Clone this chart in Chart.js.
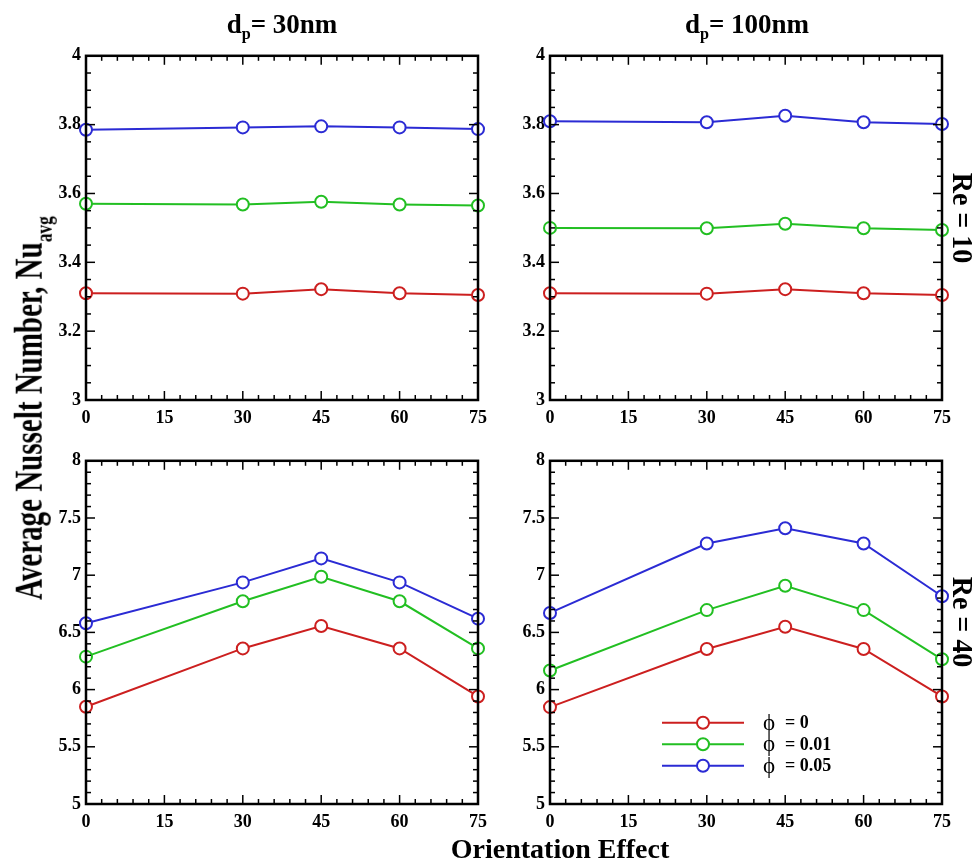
<!DOCTYPE html>
<html>
<head>
<meta charset="utf-8">
<script src="https://cdn.jsdelivr.net/npm/chart.js@4.4.0/dist/chart.umd.min.js"></script>
<style>
  body { margin: 0; background: #fff; }
  #page { position: relative; width: 977px; height: 861px; overflow: hidden; font-family: "Liberation Serif", "Times New Roman", serif; }
  .box { position: absolute; }
  .txt { position: absolute; font-weight: bold; color: #000; white-space: nowrap; line-height: 1; }
  .txt sub { font-size: 0.6em; vertical-align: baseline; position: relative; top: 0.4em; }
</style>
</head>
<body>
<div id="page">
  <div class="box" style="left:30px;top:40px;width:465px;height:390px"><canvas id="c1"></canvas></div>
  <div class="box" style="left:494px;top:40px;width:465px;height:390px"><canvas id="c2"></canvas></div>
  <div class="box" style="left:30px;top:445px;width:465px;height:389px"><canvas id="c3"></canvas></div>
  <div class="box" style="left:494px;top:445px;width:465px;height:389px"><canvas id="c4"></canvas></div>

  <div class="txt" style="left:282px;top:11px;font-size:27px;transform:translateX(-50%)">d<sub>p</sub>= 30nm</div>
  <div class="txt" style="left:747px;top:11px;font-size:27px;transform:translateX(-50%)">d<sub>p</sub>= 100nm</div>
  <div class="txt" style="left:560px;top:835px;font-size:28px;transform:translateX(-50%)">Orientation Effect</div>
  <div class="txt" style="left:29px;top:408px;font-size:29px;transform:translate(-50%,-50%) rotate(-90deg) scaleY(1.35)">Average Nusselt Number, Nu<sub>avg</sub></div>
  <div class="txt" style="left:963px;top:218px;font-size:28px;transform:translate(-50%,-50%) rotate(90deg) scaleY(1.08)">Re = 10</div>
  <div class="txt" style="left:963px;top:622px;font-size:28px;transform:translate(-50%,-50%) rotate(90deg) scaleY(1.08)">Re = 40</div>
</div>

<script>
// orientation angles (x axis)
const angles = [0, 30, 45, 60, 75];
const seriesLabels = ['ϕ = 0', 'ϕ = 0.01', 'ϕ = 0.05'];
const seriesColors = ['#cc1f1f', '#22bf22', '#2b2bd4'];

// Re = 10
const re10_30nm_phi0   = [3.310, 3.309, 3.322, 3.310, 3.305];
const re10_30nm_phi001 = [3.570, 3.568, 3.576, 3.568, 3.565];
const re10_30nm_phi005 = [3.785, 3.792, 3.795, 3.792, 3.787];
const re10_100nm_phi0   = [3.310, 3.309, 3.322, 3.310, 3.305];
const re10_100nm_phi001 = [3.500, 3.499, 3.512, 3.499, 3.494];
const re10_100nm_phi005 = [3.810, 3.807, 3.826, 3.807, 3.802];

// Re = 40
const re40_30nm_phi0   = [5.850, 6.360, 6.556, 6.360, 5.940];
const re40_30nm_phi001 = [6.288, 6.772, 6.986, 6.772, 6.360];
const re40_30nm_phi005 = [6.580, 6.937, 7.147, 6.937, 6.620];
const re40_100nm_phi0   = [5.847, 6.355, 6.550, 6.355, 5.940];
const re40_100nm_phi001 = [6.167, 6.695, 6.908, 6.695, 6.265];
const re40_100nm_phi005 = [6.670, 7.277, 7.410, 7.277, 6.816];

const FONT = '"Liberation Serif", "Times New Roman", serif';

// box around the plot + inward major/minor ticks on all four sides
const framePlugin = {
  id: 'frame',
  afterDraw(chart) {
    const o = chart.options.plugins.frame;
    if (!o) return;
    const { ctx, chartArea: a, scales: { x, y } } = chart;
    ctx.save();
    ctx.strokeStyle = '#000';
    ctx.lineWidth = 1.5;
    const seg = (x1, y1, x2, y2) => { ctx.beginPath(); ctx.moveTo(x1, y1); ctx.lineTo(x2, y2); ctx.stroke(); };

    const nx = Math.round((x.max - x.min) / o.xMinor);
    for (let i = 0; i <= nx; i++) {
      const px = x.getPixelForValue(x.min + i * o.xMinor);
      const len = i % o.xRatio === 0 ? 9 : 5;
      seg(px, a.bottom, px, a.bottom - len);
      seg(px, a.top, px, a.top + len);
    }
    const ny = Math.round((y.max - y.min) / o.yMinor);
    for (let i = 0; i <= ny; i++) {
      const py = y.getPixelForValue(y.min + i * o.yMinor);
      const len = i % o.yRatio === 0 ? 9 : 5;
      seg(a.left, py, a.left + len, py);
      seg(a.right, py, a.right - len, py);
    }
    ctx.lineWidth = 2.5;
    ctx.strokeRect(a.left, a.top, a.right - a.left, a.bottom - a.top);
    ctx.restore();
  }
};

// line + circle legend drawn inside the chart area
const lineLegend = {
  id: 'lineLegend',
  afterDraw(chart) {
    const o = chart.options.plugins.lineLegend;
    if (!o || !o.show) return;
    const { ctx, chartArea: a } = chart;
    ctx.save();
    chart.data.datasets.forEach((ds, i) => {
      const yy = a.top + o.top + i * o.gap;
      ctx.strokeStyle = ds.borderColor;
      ctx.lineWidth = 2;
      ctx.beginPath();
      ctx.moveTo(a.left + o.x0, yy);
      ctx.lineTo(a.left + o.x1, yy);
      ctx.stroke();
      ctx.fillStyle = '#fff';
      ctx.beginPath();
      ctx.arc(a.left + (o.x0 + o.x1) / 2, yy, 6, 0, Math.PI * 2);
      ctx.fill();
      ctx.stroke();
      const parts = ds.label.split('=');
      ctx.fillStyle = '#000';
      ctx.textBaseline = 'middle';
      ctx.font = '23px ' + FONT;
      ctx.fillText(parts[0].trim(), a.left + o.tx, yy + 1);
      ctx.font = 'bold 18px ' + FONT;
      ctx.fillText('= ' + parts[1].trim(), a.left + o.tx + 22, yy + 1);
    });
    ctx.restore();
  }
};

function makeChart(id, series, yMin, yMax, yStep, yMinor, yRatio, showLegend) {
  new Chart(document.getElementById(id), {
    type: 'line',
    data: {
      datasets: series.map((vals, i) => ({
        label: seriesLabels[i],
        data: angles.map((a, k) => ({ x: a, y: vals[k] })),
        borderColor: seriesColors[i],
        backgroundColor: '#fff',
        borderWidth: 2,
        pointRadius: 6,
        pointHoverRadius: 6,
        pointBorderWidth: 2,
        pointBackgroundColor: '#fff',
        tension: 0,
        clip: false
      }))
    },
    options: {
      responsive: true,
      maintainAspectRatio: false,
      animation: false,
      events: [],
      layout: { autoPadding: false, padding: { top: 12, right: 7, left: 0, bottom: 0 } },
      plugins: {
        legend: { display: false },
        tooltip: { enabled: false },
        frame: { xMinor: 3, xRatio: 5, yMinor, yRatio },
        lineLegend: { show: showLegend, x0: 112, x1: 194, top: 262, gap: 21.5, tx: 213 }
      },
      scales: {
        x: {
          type: 'linear', min: 0, max: 75,
          grid: { display: false, drawTicks: false },
          border: { display: false },
          ticks: { stepSize: 15, padding: 8, color: '#000', font: { family: FONT, weight: 'bold', size: 18 } },
          afterFit: s => { s.height = 30; }
        },
        y: {
          min: yMin, max: yMax,
          grid: { display: false, drawTicks: false },
          border: { display: false },
          ticks: {
            stepSize: yStep, padding: 5, color: '#000',
            font: { family: FONT, weight: 'bold', size: 18 },
            callback: v => String(+v.toFixed(2))
          },
          afterFit: s => { s.width = 56; }
        }
      }
    },
    plugins: [framePlugin, lineLegend]
  });
}

makeChart('c1', [re10_30nm_phi0, re10_30nm_phi001, re10_30nm_phi005], 3, 4, 0.2, 0.05, 4, false);
makeChart('c2', [re10_100nm_phi0, re10_100nm_phi001, re10_100nm_phi005], 3, 4, 0.2, 0.05, 4, false);
makeChart('c3', [re40_30nm_phi0, re40_30nm_phi001, re40_30nm_phi005], 5, 8, 0.5, 0.1, 5, false);
makeChart('c4', [re40_100nm_phi0, re40_100nm_phi001, re40_100nm_phi005], 5, 8, 0.5, 0.1, 5, true);
</script>
</body>
</html>
